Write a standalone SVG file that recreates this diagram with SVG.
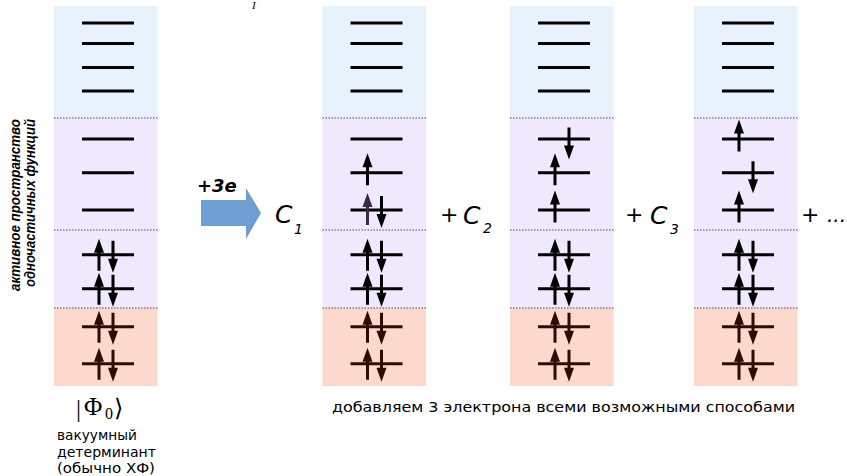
<svg xmlns="http://www.w3.org/2000/svg" width="847" height="476" viewBox="0 0 847 476">
  <style>
    .blue { fill: #e8f2fd; }
    .violet { fill: #f0e8fd; }
    .red { fill: #fdd9cd; }
    .sep { stroke: #4a4a4a; stroke-width: 1; stroke-dasharray: 1.5 1.5; fill: none; }
    .lvl { stroke: #000; stroke-width: 3; }
    .lvl-core { stroke: #2d0e04; stroke-width: 3; }
    .e { fill: #000; }
    .e-core { fill: #2d0e04; }
    .e-mark { fill: #3a2a4a; }
    .coef { font-family: "DejaVu Sans", "Liberation Sans", sans-serif; font-style: italic; fill: #000; }
    .sans { font-family: "DejaVu Sans", "Liberation Sans", sans-serif; fill: #000; }
    .serif { font-family: "Liberation Serif", "DejaVu Serif", serif; fill: #000; }
  </style>
  <defs>
    <!-- spin arrows: tip at the origin, 32 px long -->
    <path id="up" d="M0,0 L5,14 L1.5,14 L1.5,32 L-1.5,32 L-1.5,14 L-5,14 Z"/>
    <path id="down" d="M0,0 L5,-14 L1.5,-14 L1.5,-32 L-1.5,-32 L-1.5,-14 L-5,-14 Z"/>
    <!-- common column: shaded bands, separators and orbital levels -->
    <g id="column">
      <rect class="blue" x="0" y="6" width="103.5" height="112"/>
      <rect class="violet" x="0" y="118" width="103.5" height="190"/>
      <rect class="red" x="0" y="308" width="103.5" height="78"/>
      <line class="sep" x1="0" y1="118" x2="103.5" y2="118"/>
      <line class="sep" x1="0" y1="230" x2="103.5" y2="230"/>
      <line class="sep" x1="0" y1="308" x2="103.5" y2="308"/>
      <line class="lvl" x1="28" y1="23" x2="80" y2="23"/>
      <line class="lvl" x1="28" y1="43.5" x2="80" y2="43.5"/>
      <line class="lvl" x1="28" y1="67.5" x2="80" y2="67.5"/>
      <line class="lvl" x1="28" y1="91" x2="80" y2="91"/>
      <line class="lvl" x1="28" y1="139" x2="80" y2="139"/>
      <line class="lvl" x1="28" y1="172.7" x2="80" y2="172.7"/>
      <line class="lvl" x1="28" y1="210" x2="80" y2="210"/>
      <line class="lvl" x1="28" y1="254.7" x2="80" y2="254.7"/>
      <line class="lvl" x1="28" y1="288.7" x2="80" y2="288.7"/>
      <line class="lvl-core" x1="28" y1="326.7" x2="80" y2="326.7"/>
      <line class="lvl-core" x1="28" y1="363.7" x2="80" y2="363.7"/>
      <!-- doubly occupied levels -->
      <use href="#up" class="e" x="45" y="238.7"/>
      <use href="#down" class="e" x="59" y="272.7"/>
      <use href="#up" class="e" x="45" y="272.7"/>
      <use href="#down" class="e" x="59" y="306.7"/>
      <use href="#up" class="e-core" x="45" y="310.7"/>
      <use href="#down" class="e-core" x="59" y="344.7"/>
      <use href="#up" class="e-core" x="45" y="347.7"/>
      <use href="#down" class="e-core" x="59" y="381.7"/>
    </g>
  </defs>

  <!-- side caption -->
  <g id="caption-active" font-family="Liberation Sans, Arial, sans-serif" font-size="14" font-weight="bold" font-style="italic" fill="#000" text-anchor="middle">
    <text transform="translate(20,205) rotate(-90)" textLength="172" lengthAdjust="spacingAndGlyphs">активное пространство</text>
    <text transform="translate(35,203) rotate(-90)" textLength="168" lengthAdjust="spacingAndGlyphs">одночастичных функций</text>
  </g>

  <!-- reference determinant -->
  <g id="vacuum">
    <use href="#column" transform="translate(54,0)"/>
    <text class="serif" x="76" y="417" font-size="25">|</text>
    <text class="serif" x="84" y="415" font-size="25">Φ</text>
    <text class="serif" x="105" y="419" font-size="16">0</text>
    <text class="serif" x="114" y="416" font-size="24">⟩</text>
    <text class="sans" font-size="13.5">
      <tspan x="57" y="440" textLength="80" lengthAdjust="spacingAndGlyphs">вакуумный</tspan>
      <tspan x="57" y="456.5" textLength="99" lengthAdjust="spacingAndGlyphs">детерминант</tspan>
      <tspan x="57" y="473" textLength="98" lengthAdjust="spacingAndGlyphs">(обычно ХФ)</tspan>
    </text>
  </g>

  <text class="serif" x="252" y="9" font-size="11" font-style="italic">I</text>

  <!-- electron addition arrow -->
  <g id="add-electrons">
    <polygon points="201,200 246,200 246,188 261,213 246,239 246,226 201,226" fill="#6f9ed2"/>
    <text x="197" y="192" font-family="DejaVu Sans, sans-serif" font-size="18" font-weight="bold" font-style="italic" fill="#000">+3e</text>
  </g>

  <!-- determinant 1 -->
  <g id="det1">
    <use href="#column" transform="translate(322.5,0)"/>
    <use href="#up" class="e" x="367.5" y="153.2"/>
    <use href="#up" class="e-mark" x="367.5" y="193"/>
    <use href="#down" class="e" x="381.5" y="228"/>
  </g>

  <!-- determinant 2 -->
  <g id="det2">
    <use href="#column" transform="translate(510,0)"/>
    <use href="#down" class="e" x="569" y="159.5"/>
    <use href="#up" class="e" x="555" y="153.2"/>
    <use href="#up" class="e" x="555" y="190.5"/>
  </g>

  <!-- determinant 3 -->
  <g id="det3">
    <use href="#column" transform="translate(694,0)"/>
    <use href="#up" class="e" x="739" y="119.5"/>
    <use href="#down" class="e" x="753" y="193.2"/>
    <use href="#up" class="e" x="739" y="190.5"/>
  </g>

  <!-- expansion coefficients -->
  <g id="coefficients">
    <text class="coef" x="275" y="223" font-size="25">C</text>
    <text class="coef" x="294" y="234" font-size="14">1</text>
    <text class="sans" x="440" y="222" font-size="22">+</text>
    <text class="coef" x="463" y="224" font-size="25">C</text>
    <text class="coef" x="483" y="233" font-size="14">2</text>
    <text class="sans" x="625" y="222" font-size="22">+</text>
    <text class="coef" x="650" y="224" font-size="25">C</text>
    <text class="coef" x="670" y="234" font-size="14">3</text>
    <text class="sans" x="801" y="222" font-size="22">+</text>
    <text class="coef" x="827" y="222" font-size="20">...</text>
  </g>

  <text class="sans" x="332" y="412" font-size="14" textLength="463" lengthAdjust="spacingAndGlyphs">добавляем 3 электрона всеми возможными способами</text>
</svg>
